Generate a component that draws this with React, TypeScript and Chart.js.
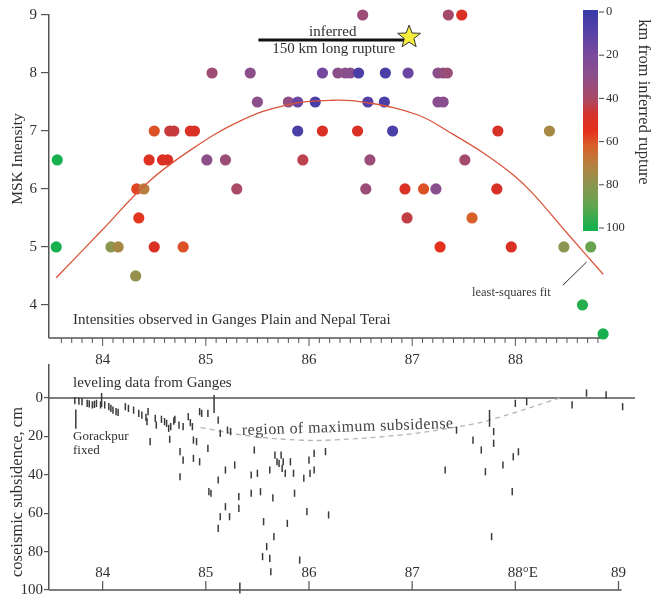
import React, { useEffect, useRef } from 'react';
import { Chart, registerables } from 'chart.js';
Chart.register(...registerables);

// ---------------- DATA ----------------
// Top panel: MSK intensities (longitude °E, intensity, distance from inferred rupture in km)
const intensityLon = [
  86.52, 87.35, 87.48,
  85.06, 85.43, 86.13, 86.28, 86.35, 86.40, 86.48, 86.74, 86.96, 87.25, 87.30, 87.34,
  85.50, 85.80, 85.89, 86.06, 86.57, 86.73, 87.25, 87.30,
  84.50, 84.65, 84.69, 84.85, 84.89, 85.89, 86.13, 86.47, 86.81, 87.83, 88.33,
  83.56, 84.45, 84.58, 84.63, 85.01, 85.19, 85.94, 86.59, 87.51,
  84.33, 84.40, 85.30, 86.55, 86.93, 87.11, 87.23, 87.82,
  84.35, 86.95, 87.58,
  83.55, 84.08, 84.15, 84.50, 84.78, 87.27, 87.96, 88.47, 88.73,
  84.32,
  88.65,
  88.85,
];
const intensityMSK = [
  9, 9, 9,
  8, 8, 8, 8, 8, 8, 8, 8, 8, 8, 8, 8,
  7.5, 7.5, 7.5, 7.5, 7.5, 7.5, 7.5, 7.5,
  7, 7, 7, 7, 7, 7, 7, 7, 7, 7, 7,
  6.5, 6.5, 6.5, 6.5, 6.5, 6.5, 6.5, 6.5, 6.5,
  6, 6, 6, 6, 6, 6, 6, 6,
  5.5, 5.5, 5.5,
  5, 5, 5, 5, 5, 5, 5, 5, 5,
  4.5,
  4,
  3.5,
];
const intensityKm = [
  35, 38, 50,
  36, 30, 18, 30, 30, 28, 5, 5, 15, 30, 32, 35,
  30, 32, 15, 5, 8, 5, 28, 28,
  60, 45, 45, 50, 50, 5, 50, 50, 5, 48, 74,
  100, 52, 50, 50, 30, 35, 43, 35, 38,
  58, 70, 40, 35, 50, 60, 28, 48,
  56, 44, 62,
  100, 80, 74, 50, 60, 55, 50, 80, 88,
  78,
  98,
  100,
];

// least-squares fit
const fitLon = [83.55, 84.00, 84.43, 84.85, 85.33, 85.79, 86.23, 86.56, 87.05, 87.37, 87.69, 87.98, 88.17, 88.50, 88.85];
const fitMSK = [4.47, 5.30, 6.10, 6.67, 7.17, 7.45, 7.53, 7.49, 7.28, 6.97, 6.62, 6.24, 5.92, 5.24, 4.53];

// inferred 150 km rupture and epicentre star
const ruptureLon = [85.51, 86.97];
const ruptureMSK = [8.57, 8.57];
const starLon = 86.97;
const starMSK = 8.62;

// colour scale (km from inferred rupture)
const colorbarKm = [0, 10, 20, 30, 40, 48, 55, 62, 70, 80, 90, 100];
const colorbarHex = ['#3a3aa8', '#5a42a6', '#7a4a9c', '#8c4f8a', '#aa4a66', '#d83228', '#e4301c', '#d8602a', '#b87f3e', '#8c9650', '#5ea64e', '#16b04e'];
const colorbarTicks = [0, 20, 40, 60, 80, 100];

// Bottom panel: levelling data (longitude, coseismic subsidence cm)
const levelLon = [
  83.73, 83.77, 83.80, 83.85, 83.87, 83.90, 83.92, 83.94, 83.98, 84.02, 84.06, 84.08, 84.10, 84.13, 84.15,
  84.22, 84.25, 84.30, 84.35, 84.38, 84.42, 84.44, 84.43, 84.51, 84.52, 84.57, 84.60, 84.62, 84.64, 84.66,
  84.69, 84.70, 84.74, 84.78, 84.83, 84.85, 84.87, 84.94, 84.96, 85.02, 85.12, 85.14, 85.21, 85.24,
  84.46, 84.65, 84.75, 84.78, 84.88, 84.91, 84.88, 84.94, 84.75, 85.02, 85.03, 85.05, 85.12, 85.14, 85.12,
  85.19, 85.19, 85.23, 85.28, 85.32, 85.32, 85.44, 85.44, 85.47, 85.50, 85.53, 85.55, 85.56, 85.59, 85.62,
  85.62, 85.63, 85.65, 85.66, 85.67, 85.69, 85.71, 85.73, 85.74, 85.75, 85.77, 85.79, 85.82, 85.85, 85.86,
  85.91, 85.95, 85.98, 86.00, 86.01, 86.05, 86.05, 86.16, 86.19,
  87.32, 87.43, 87.59, 87.67, 87.71, 87.77, 87.79, 87.79, 87.88, 87.97, 87.98, 88.00, 88.03, 88.11,
  88.55, 88.69, 88.88, 89.04,
];
const levelSub = [
  1.4, 1.6, 1.9, 2.8, 3.1, 3.6, 3.3, 2.8, 3.6, 3.6, 4.5, 5.4, 6.3, 7.1, 7.5,
  4.5, 5.4, 6.3, 8.0, 8.9, 10.1, 7.1, 12.3, 10.6, 14.1, 11.1, 12.3, 13.2, 15.8, 14.9,
  12.0, 11.1, 14.1, 14.9, 9.7, 12.8, 14.9, 7.1, 8.0, 8.0, 11.5, 18.4, 16.7, 17.5,
  22.7, 21.5, 27.9, 32.3, 21.9, 22.7, 31.4, 33.2, 41.0, 26.2, 48.8, 49.6, 42.7, 61.8, 67.9,
  56.6, 37.5, 61.8, 34.9, 51.4, 57.5, 49.6, 40.1, 27.1, 39.2, 48.8, 82.6, 64.4, 77.4, 37.5,
  83.5, 90.5, 52.0, 72.2, 29.7, 33.2, 34.0, 29.7, 36.6, 33.2, 39.2, 65.3, 33.2, 39.2, 49.6,
  84.4, 41.8, 59.2, 32.3, 39.2, 28.8, 37.5, 27.9, 60.9,
  37.5, 16.7, 21.9, 27.1, 38.4, 72.2, 17.5, 23.6, 34.9, 48.8, 30.6, 2.8, 28.0, 1.9,
  3.6, -2.6, -1.6, 4.5,
];
// longer level marks (Gorakhpur benchmark etc.)
const longMarkLon = [83.74, 83.99, 85.08, 85.33, 87.75];
const longMarkSub = [11.0, 1.0, 3.1, 99.0, 10.6];

// dashed "region of maximum subsidence" curve
const dashLon = [84.95, 85.43, 85.91, 86.20, 86.88, 87.43, 87.75, 88.43];
const dashSub = [15.4, 19.8, 21.9, 21.9, 19.3, 15.1, 11.5, 0];

// axes
const topYTicks = [4, 5, 6, 7, 8, 9];
const topXTicks = [84, 85, 86, 87, 88];
const topXLabels = ['84', '85', '86', '87', '88'];
const bottomYTicks = [0, 20, 40, 60, 80, 100];
const bottomXTicks = [84, 85, 86, 87, 88, 89];
const bottomXLabels = ['84', '85', '86', '87', '88°E', '89'];

// ---------------- STYLE ----------------
const W = 651;
const H = 610;
const SERIF = '"Liberation Serif", "DejaVu Serif", serif';
const TXT = '#2f2f2f';
const AXIS = '#555555';

function hexToRgb(h: string) {
  const n = parseInt(h.slice(1), 16);
  return [(n >> 16) & 255, (n >> 8) & 255, n & 255];
}
function kmColor(d: number): string {
  for (let i = 0; i < colorbarKm.length - 1; i++) {
    if (d <= colorbarKm[i + 1]) {
      const t = (d - colorbarKm[i]) / (colorbarKm[i + 1] - colorbarKm[i]);
      const a = hexToRgb(colorbarHex[i]);
      const b = hexToRgb(colorbarHex[i + 1]);
      const c = a.map((v, k) => Math.round(v + (b[k] - v) * t));
      return `rgb(${c[0]},${c[1]},${c[2]})`;
    }
  }
  return colorbarHex[colorbarHex.length - 1];
}

function line(ctx: CanvasRenderingContext2D, x1: number, y1: number, x2: number, y2: number) {
  ctx.beginPath();
  ctx.moveTo(x1, y1);
  ctx.lineTo(x2, y2);
  ctx.stroke();
}
function text(ctx: CanvasRenderingContext2D, s: string, x: number, y: number, size: number, align: CanvasTextAlign = 'left', color = TXT) {
  ctx.font = `${size}px ${SERIF}`;
  ctx.fillStyle = color;
  ctx.textAlign = align;
  ctx.textBaseline = 'middle';
  ctx.fillText(s, x, y);
}
function vtext(ctx: CanvasRenderingContext2D, s: string, x: number, y: number, size: number, rot: number) {
  ctx.save();
  ctx.translate(x, y);
  ctx.rotate(rot);
  text(ctx, s, 0, 0, size, 'center');
  ctx.restore();
}

const topDecor = {
  id: 'topDecor',
  afterDraw(chart: any) {
    const { ctx, chartArea: a, scales } = chart;
    const x = scales.x;
    const y = scales.y;
    ctx.save();
    // x axis line + ticks
    ctx.strokeStyle = AXIS;
    ctx.lineWidth = 1.5;
    line(ctx, a.left, a.bottom, a.right, a.bottom);
    ctx.lineWidth = 1;
    for (let k = 835; k <= 888; k++) {
      const px = x.getPixelForValue(k / 10);
      if (px < a.left + 3 || px > a.right) continue;
      const major = k % 10 === 0;
      line(ctx, px, a.bottom, px, a.bottom + (major ? 8 : 5));
    }
    topXTicks.forEach((v, i) => text(ctx, topXLabels[i], x.getPixelForValue(v), a.bottom + 22, 15, 'center'));
    // y title
    vtext(ctx, 'MSK Intensity', 18, 159, 15.5, -Math.PI / 2);

    // colorbar
    const bx = 583, bw = 15, b0 = 12, b100 = 228;
    const g = ctx.createLinearGradient(0, b0, 0, b100);
    colorbarKm.forEach((k, i) => g.addColorStop(k / 100, colorbarHex[i]));
    ctx.fillStyle = g;
    ctx.fillRect(bx, b0 - 2, bw, b100 - b0 + 5);
    ctx.strokeStyle = '#444';
    ctx.lineWidth = 1;
    colorbarTicks.forEach((k) => {
      const py = b0 + (k / 100) * (b100 - b0);
      line(ctx, bx + bw + 1, py, bx + bw + 6, py);
      text(ctx, String(k), bx + bw + 8, py, 12.5, 'left');
    });
    vtext(ctx, 'km from inferred rupture', 643, 102, 16.5, Math.PI / 2);

    // rupture annotation
    const sx = x.getPixelForValue(starLon);
    const sy = y.getPixelForValue(starMSK);
    ctx.beginPath();
    for (let i = 0; i < 10; i++) {
      const ang = -Math.PI / 2 + (i * Math.PI) / 5;
      const r = i % 2 === 0 ? 12 : 5;
      ctx.lineTo(sx + r * Math.cos(ang), sy + r * Math.sin(ang));
    }
    ctx.closePath();
    ctx.fillStyle = '#f6ee3c';
    ctx.fill();
    ctx.strokeStyle = '#333';
    ctx.lineWidth = 1;
    ctx.stroke();
    const rx = (x.getPixelForValue(ruptureLon[0]) + x.getPixelForValue(ruptureLon[1])) / 2;
    const ry = y.getPixelForValue(ruptureMSK[0]);
    text(ctx, 'inferred', rx - 1, ry - 8, 15, 'center');
    text(ctx, '150 km long rupture', rx, ry + 9, 15, 'center');

    // panel notes
    text(ctx, 'Intensities observed in Ganges Plain and Nepal Terai', 73, 320, 15, 'left');
    text(ctx, 'least-squares fit', 472, 293, 12.5, 'left', '#3a3a3a');
    ctx.strokeStyle = '#333';
    ctx.lineWidth = 1;
    line(ctx, x.getPixelForValue(88.46), y.getPixelForValue(4.34), x.getPixelForValue(88.69), y.getPixelForValue(4.74));
    ctx.restore();
  },
};

const bottomDecor = {
  id: 'bottomDecor',
  beforeDatasetsDraw(chart: any) {
    const { ctx, chartArea: a, scales } = chart;
    const y = scales.y;
    ctx.save();
    ctx.strokeStyle = AXIS;
    ctx.lineWidth = 1.5;
    const y0 = y.getPixelForValue(0);
    line(ctx, a.left, y0, a.right, y0);
    ctx.restore();
  },
  afterDraw(chart: any) {
    const { ctx, chartArea: a, scales } = chart;
    const x = scales.x;
    ctx.save();
    ctx.strokeStyle = AXIS;
    ctx.lineWidth = 1.5;
    const xEnd = x.getPixelForValue(89.03);
    line(ctx, a.left, a.bottom, xEnd, a.bottom);
    ctx.lineWidth = 1.2;
    bottomXTicks.forEach((v, i) => {
      const px = x.getPixelForValue(v);
      line(ctx, px, a.bottom, px, a.bottom - 9);
      const lab = bottomXLabels[i];
      ctx.font = `15px ${SERIF}`;
      const digits = lab.replace(/[^0-9]/g, '');
      const wd = ctx.measureText(digits).width;
      text(ctx, lab, px - wd / 2, a.bottom - 17, 15, 'left');
    });
    vtext(ctx, 'coseismic subsidence, cm', 18, 492, 16.5, -Math.PI / 2);
    text(ctx, 'leveling data from Ganges', 73, 383, 15, 'left');
    text(ctx, 'Gorackpur', 73, 437, 13, 'left');
    text(ctx, 'fixed', 73, 451, 13, 'left');
    ctx.save();
    ctx.translate(242, 435);
    ctx.rotate(-0.033);
    ctx.font = `16px ${SERIF}`;
    (ctx as any).letterSpacing = '0.4px';
    ctx.fillStyle = '#444';
    ctx.textAlign = 'left';
    ctx.textBaseline = 'alphabetic';
    ctx.fillText('region of maximum subsidense', 0, 0);
    ctx.restore();
    ctx.restore();
  },
};

function topConfig(): any {
  return {
    type: 'scatter',
    data: {
      datasets: [
        {
          data: fitLon.map((v, i) => ({ x: v, y: fitMSK[i] })),
          showLine: true,
          borderColor: '#d9553c',
          borderWidth: 1.3,
          pointRadius: 0,
          tension: 0.4,
          clip: false,
        },
        {
          data: ruptureLon.map((v, i) => ({ x: v, y: ruptureMSK[i] })),
          showLine: true,
          borderColor: '#111',
          borderWidth: 3,
          pointRadius: 0,
          clip: false,
        },
        {
          data: intensityLon.map((v, i) => ({ x: v, y: intensityMSK[i] })),
          backgroundColor: intensityKm.map(kmColor),
          pointRadius: 5.6,
          borderWidth: 0,
          clip: false,
        },
      ],
    },
    options: {
      responsive: false,
      animation: false,
      devicePixelRatio: 1,
      events: [],
      layout: { padding: { left: 0, top: 15, right: W - 600, bottom: H - 338 } },
      plugins: { legend: { display: false }, tooltip: { enabled: false } },
      scales: {
        x: { type: 'linear', display: false, min: 83.48, max: 88.82 },
        y: {
          type: 'linear',
          min: 3.43,
          max: 9,
          afterBuildTicks: (s: any) => { s.ticks = topYTicks.map((v) => ({ value: v })); },
          afterFit: (s: any) => { s.width = 49; },
          grid: { drawOnChartArea: false, drawTicks: true, tickLength: 8, color: AXIS, lineWidth: 1.2 },
          border: { display: true, color: AXIS, width: 1.5 },
          ticks: { padding: 4, color: TXT, font: { family: SERIF, size: 15 } },
        },
      },
    },
    plugins: [topDecor],
  };
}

function bottomConfig(): any {
  return {
    type: 'scatter',
    data: {
      datasets: [
        {
          data: levelLon.map((v, i) => ({ x: v, y: levelSub[i] })),
          pointStyle: 'line',
          rotation: 90,
          pointRadius: 3.6,
          borderColor: '#3a3a3a',
          borderWidth: 1.5,
          clip: false,
        },
        {
          data: longMarkLon.map((v, i) => ({ x: v, y: longMarkSub[i] })),
          pointStyle: 'line',
          rotation: 90,
          pointRadius: [9.6, 7, 9, 5.5, 8.5],
          borderColor: '#3a3a3a',
          borderWidth: 1.5,
          clip: false,
        },
        {
          data: dashLon.map((v, i) => ({ x: v, y: dashSub[i] })),
          showLine: true,
          borderColor: '#b4b4b4',
          borderWidth: 1.3,
          borderDash: [5, 4],
          pointRadius: 0,
          tension: 0.4,
        },
      ],
    },
    options: {
      responsive: false,
      animation: false,
      devicePixelRatio: 1,
      events: [],
      layout: { padding: { left: 0, top: 365, right: W - 635, bottom: H - 590 } },
      plugins: { legend: { display: false }, tooltip: { enabled: false } },
      scales: {
        x: { type: 'linear', display: false, min: 83.48, max: 89.16 },
        y: {
          type: 'linear',
          reverse: true,
          min: -17.2,
          max: 100,
          afterBuildTicks: (s: any) => { s.ticks = bottomYTicks.map((v) => ({ value: v })); },
          afterFit: (s: any) => { s.width = 49; },
          grid: { drawOnChartArea: false, drawTicks: true, tickLength: 5, color: AXIS, lineWidth: 1.2 },
          border: { display: true, color: AXIS, width: 1.5 },
          ticks: { padding: 1, color: TXT, font: { family: SERIF, size: 15 } },
        },
      },
    },
    plugins: [bottomDecor],
  };
}

export default function App() {
  const topRef = useRef<HTMLCanvasElement>(null);
  const botRef = useRef<HTMLCanvasElement>(null);
  useEffect(() => {
    const c2 = new Chart(botRef.current as HTMLCanvasElement, bottomConfig());
    const c1 = new Chart(topRef.current as HTMLCanvasElement, topConfig());
    return () => {
      c1.destroy();
      c2.destroy();
    };
  }, []);
  const cs: React.CSSProperties = { position: 'absolute', left: 0, top: 0, width: W, height: H };
  return (
    <div style={{ position: 'fixed', left: 0, top: 0, width: 651, height: 595, overflow: 'hidden', background: '#fff' }}>
      <canvas ref={botRef} width={W} height={H} style={cs} />
      <canvas ref={topRef} width={W} height={H} style={cs} />
    </div>
  );
}
